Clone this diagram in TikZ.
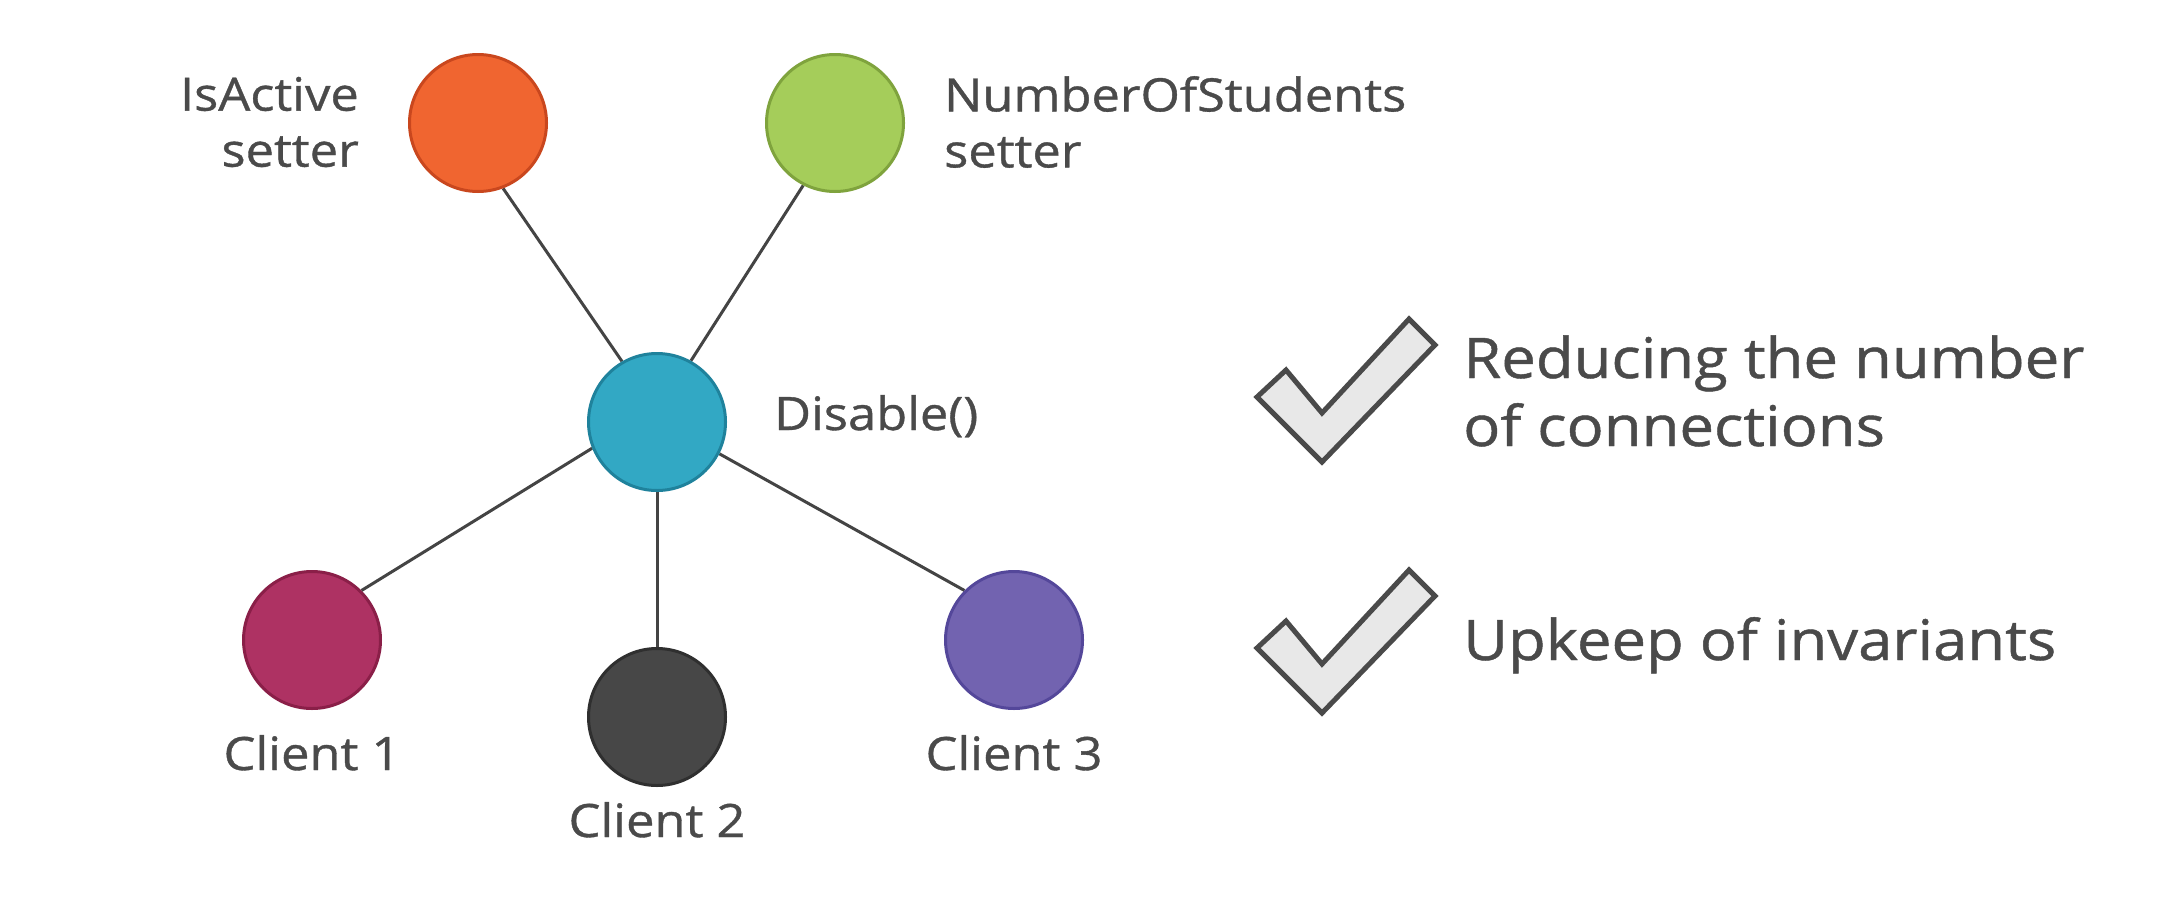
\documentclass[tikz,border=0pt]{standalone}
\usepackage{fontspec}
\setmainfont{Open Sans}[FakeStretch=1.1, FakeBold=0.8]
\definecolor{txt}{HTML}{4A4A4A}
\definecolor{linec}{HTML}{444444}
\definecolor{checkfill}{HTML}{E8E8E8}
\definecolor{orangef}{HTML}{F06530}\definecolor{oranged}{HTML}{C9471E}
\definecolor{greenf}{HTML}{A5CD5A}\definecolor{greend}{HTML}{7FA33D}
\definecolor{tealf}{HTML}{32A8C4}\definecolor{teald}{HTML}{1F829C}
\definecolor{magf}{HTML}{AE3263}\definecolor{magd}{HTML}{8A1F48}
\definecolor{darkf}{HTML}{474747}\definecolor{darkd}{HTML}{2F2F2F}
\definecolor{purf}{HTML}{7263B0}\definecolor{purd}{HTML}{54479A}
\begin{document}
\begin{tikzpicture}[x=1pt,y=-1pt,
  ball/.style={circle, minimum size=137pt, inner sep=0pt, line width=3pt},
  edge/.style={draw=linec, line width=3pt},
  lbl/.style={text=txt, font=\fontsize{46}{56}\selectfont, inner sep=0pt},
  big/.style={text=txt, font=\fontsize{56}{68}\selectfont, inner sep=0pt, align=left},
  tick/.style={draw=txt, fill=checkfill, line width=5pt, line join=miter}]
\useasboundingbox[fill=white] (0,0) rectangle (2178,910);
% node positions
\node[ball] (ia) at (478,123) {};
\node[ball] (ns) at (835,123) {};
\node[ball] (dis) at (657,422) {};
\node[ball] (c1) at (312,640) {};
\node[ball] (c2) at (657,717) {};
\node[ball] (c3) at (1014,640) {};
% edges (behind circles)
\draw[edge] (ia.-69) -- (dis.120);
\draw[edge] (ns.-117) -- (dis.61);
\draw[edge] (dis.-158) -- (c1.45);
\draw[edge] (dis.south) -- (c2.north);
\draw[edge] (dis.-27) -- (c3.135);
% circles
\path[fill=orangef, draw=oranged, line width=3pt] (ia.center) circle[radius=68.5];
\path[fill=greenf, draw=greend, line width=3pt] (ns.center) circle[radius=68.5];
\path[fill=tealf, draw=teald, line width=3pt] (dis.center) circle[radius=68.5];
\path[fill=magf, draw=magd, line width=3pt] (c1.center) circle[radius=68.5];
\path[fill=darkf, draw=darkd, line width=3pt] (c2.center) circle[radius=68.5];
\path[fill=purf, draw=purd, line width=3pt] (c3.center) circle[radius=68.5];
% labels
\node[lbl, align=right, anchor=east] (lia) at (359,122) {IsActive\\setter};
\node[lbl, align=left, anchor=west] (lns) at (944,122) {NumberOfStudents\\setter};
\node[lbl, anchor=base west] (ldis) at (774,430) {Disable()};
\node[lbl, anchor=base] (lc1) at (312,770) {Client 1};
\node[lbl, anchor=base] (lc2) at (657,837) {Client 2};
\node[lbl, anchor=base] (lc3) at (1014,770) {Client 3};
% checkmarks
\draw[tick] (1257,397) -- (1286,370) -- (1322,413) -- (1409,319) -- (1435,345) -- (1322,462) -- cycle;
\draw[tick] (1257,648) -- (1286,621) -- (1322,664) -- (1409,570) -- (1435,596) -- (1322,713) -- cycle;
\node[big, anchor=west] (t1) at (1463,391) {Reducing the number\\of connections};
\node[big, anchor=base west] (t2) at (1463,660) {Upkeep of invariants};
\end{tikzpicture}
\end{document}
